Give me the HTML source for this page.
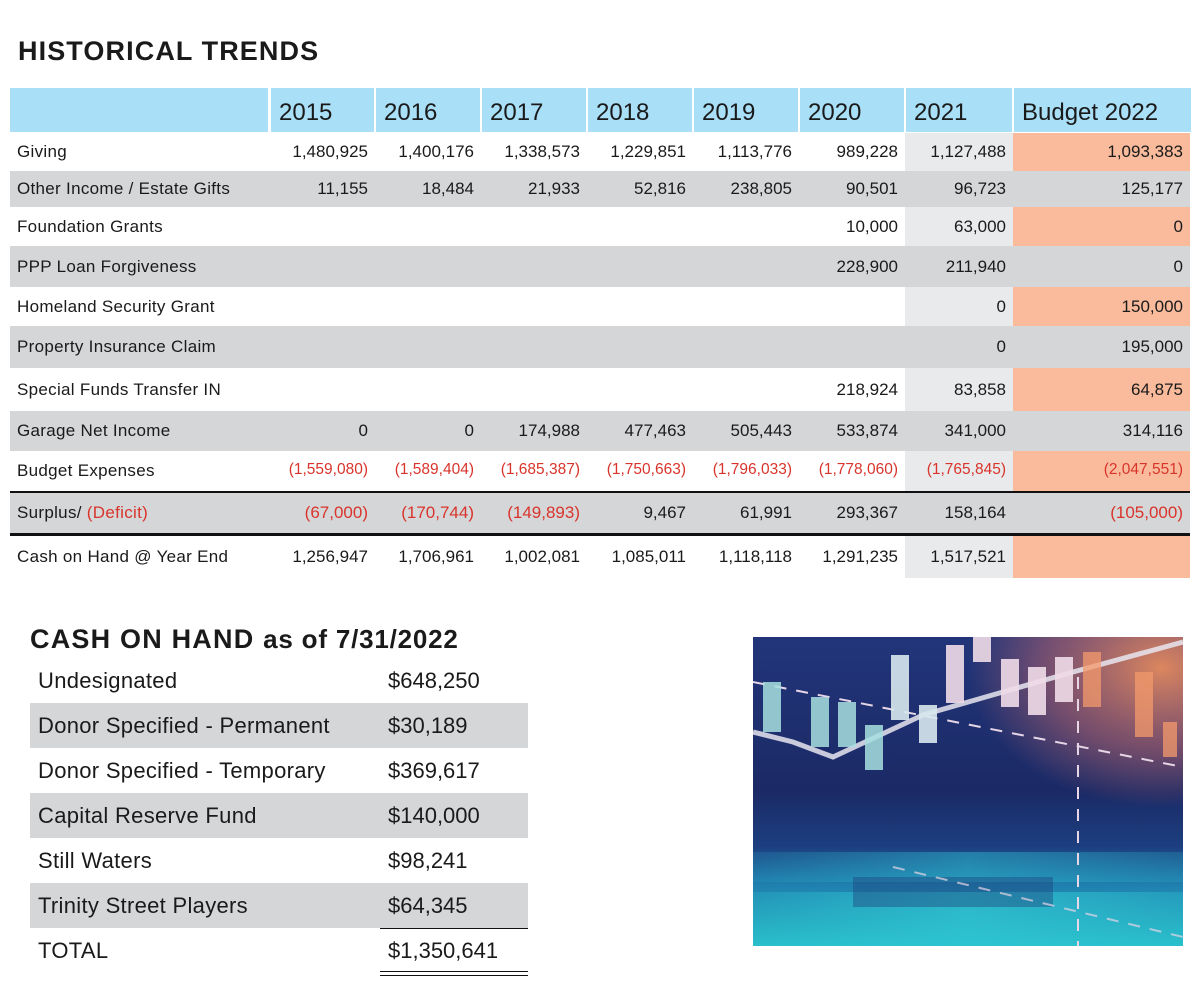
<!DOCTYPE html>
<html><head><meta charset="utf-8">
<style>
body{margin:0;width:1200px;height:988px;background:#fff;font-family:"Liberation Sans",sans-serif;color:#1a1a1a;position:relative;overflow:hidden}
.a{position:absolute}
.t{font-size:17px;line-height:1}
.r{text-align:right}
.red{color:#d9342b}
</style></head><body>
<div class="a" style="left:18px;top:36px;font-size:27px;font-weight:bold;letter-spacing:1.1px">HISTORICAL TRENDS</div>
<div id="tbl"></div>

<div class="a" style="left:30px;top:624px;font-size:27px;font-weight:bold;letter-spacing:1.2px">CASH ON HAND <span style="font-size:26px;letter-spacing:0.8px">as of 7/31/2022</span></div>
<div id="cash"></div>

<svg class="a" style="left:753px;top:637px" width="430" height="309" viewBox="0 0 430 309">
<defs>
<linearGradient id="bg" x1="0" y1="0" x2="0" y2="1"><stop offset="0" stop-color="#22357a"/><stop offset="0.5" stop-color="#1b2a66"/><stop offset="0.68" stop-color="#1c3f80"/><stop offset="0.8" stop-color="#1f7fae"/><stop offset="1" stop-color="#27bcc8"/></linearGradient>
<radialGradient id="or" cx="0.95" cy="0.1" r="0.45"><stop offset="0" stop-color="#f0905c" stop-opacity="0.9"/><stop offset="0.6" stop-color="#c86a6a" stop-opacity="0.5"/><stop offset="1" stop-color="#c86a6a" stop-opacity="0"/></radialGradient>
<linearGradient id="tl" x1="0" y1="0" x2="1" y2="0"><stop offset="0" stop-color="#30c8d4" stop-opacity="0.2"/><stop offset="0.5" stop-color="#30c8d4" stop-opacity="0.7"/><stop offset="1" stop-color="#30c8d4" stop-opacity="0.3"/></linearGradient>
</defs>
<rect width="430" height="309" fill="url(#bg)"/>
<rect width="430" height="309" fill="url(#or)"/>
<rect x="0" y="215" width="430" height="30" fill="url(#tl)" opacity="0.6"/>
<rect x="0" y="255" width="430" height="54" fill="url(#tl)"/>
<rect x="100" y="240" width="200" height="30" fill="#1d3c78" opacity="0.4"/>
<polyline points="0,95 40,105 80,120 170,78 250,55 320,35 430,5" fill="none" stroke="#e8e6f0" stroke-width="5" opacity="0.85"/>
<line x1="0" y1="45" x2="430" y2="130" stroke="#e6d6e6" stroke-width="2" stroke-dasharray="12 10"/>
<line x1="325" y1="40" x2="325" y2="309" stroke="#e6d6e6" stroke-width="2" stroke-dasharray="12 10"/>
<line x1="140" y1="230" x2="430" y2="300" stroke="#e6d6e6" stroke-width="2" stroke-dasharray="12 10" opacity="0.7"/>
<g fill="#a8e0e0" opacity="0.85"><rect x="10" y="45" width="18" height="50"/><rect x="58" y="60" width="18" height="50"/><rect x="85" y="65" width="18" height="45"/><rect x="112" y="88" width="18" height="45"/></g>
<g fill="#d8e8ee" opacity="0.9"><rect x="138" y="18" width="18" height="65"/><rect x="166" y="68" width="18" height="38"/></g>
<g fill="#f0dce8" opacity="0.9"><rect x="193" y="8" width="18" height="58"/><rect x="220" y="0" width="18" height="25"/><rect x="248" y="22" width="18" height="48"/><rect x="275" y="30" width="18" height="48"/><rect x="302" y="20" width="18" height="45"/></g>
<g fill="#f49a6c" opacity="0.75"><rect x="330" y="15" width="18" height="55"/><rect x="382" y="35" width="18" height="65"/><rect x="410" y="85" width="14" height="35"/></g>
</svg>

<script>
const years=["2015","2016","2017","2018","2019","2020","2021","Budget 2022"];
const rowLabels=["Giving","Other Income / Estate Gifts","Foundation Grants","PPP Loan Forgiveness","Homeland Security Grant","Property Insurance Claim","Special Funds Transfer IN","Garage Net Income","Budget Expenses","Surplus/ (Deficit)","Cash on Hand @ Year End"];
const rowValues=[
["1,480,925","1,400,176","1,338,573","1,229,851","1,113,776","989,228","1,127,488","1,093,383"],
["11,155","18,484","21,933","52,816","238,805","90,501","96,723","125,177"],
["","","","","","10,000","63,000","0"],
["","","","","","228,900","211,940","0"],
["","","","","","","0","150,000"],
["","","","","","","0","195,000"],
["","","","","","218,924","83,858","64,875"],
["0","0","174,988","477,463","505,443","533,874","341,000","314,116"],
["(1,559,080)","(1,589,404)","(1,685,387)","(1,750,663)","(1,796,033)","(1,778,060)","(1,765,845)","(2,047,551)"],
["(67,000)","(170,744)","(149,893)","9,467","61,991","293,367","158,164","(105,000)"],
["1,256,947","1,706,961","1,002,081","1,085,011","1,118,118","1,291,235","1,517,521",""]
];
const rowY=[133,171,207,246,287,326,368,411,451,493,536];
const rowB=[171,207,246,287,326,368,411,451,491,533,578];
const colX=[270,375,481,587,693,799,905,1013,1190];
const grayRows=[1,3,5,7,9];
const t=document.getElementById('tbl');
function div(css,txt,cls){const d=document.createElement('div');d.className='a '+(cls||'');d.style.cssText=css;if(txt!==undefined)d.textContent=txt;t.appendChild(d);return d;}
let h=div('left:10px;top:88px;width:258px;height:44px;background:#a9dff7');


years.forEach((y,i)=>{const w=colX[i+1]-colX[i]-(i<7?2:0);
const d=div(`left:${colX[i]+1}px;top:88px;width:${w}px;height:44px;background:#a9dff7;font-size:24px;line-height:50px;padding-left:8px;box-sizing:border-box`,y);

});
rowLabels.forEach((lab,r)=>{const top=rowY[r],hh=rowB[r]-rowY[r],g=grayRows.includes(r);
const bgc=div(`left:10px;top:${top}px;width:1180px;height:${hh}px;background:${g?'#d5d6d8':'#fff'}`);


if(!g){const c=div(`left:905px;top:${top}px;width:108px;height:${hh}px;background:#e9eaec`);
const s=div(`left:1013px;top:${top}px;width:177px;height:${hh}px;background:#f9bb9c`);}
const l=div(`left:17px;top:${top+hh/2-9}px;letter-spacing:0.3px`,'', 't');
if(r===9){l.innerHTML='Surplus/ <span class="red">(Deficit)</span>';}else l.textContent=lab;


rowValues[r].forEach((v,i)=>{if(!v)return;const red=v.startsWith('(');
const d=div(`left:${colX[i]}px;top:${top+hh/2-9}px;width:${colX[i+1]-colX[i]-7}px;${red&&r===8?'font-size:15.5px;':''}`,v,'t r'+(red?' red':''));

});
});
let ln=div('left:10px;top:491px;width:1180px;height:2px;background:#111');
ln=div('left:10px;top:533px;width:1180px;height:3px;background:#111');

const cashLabels=["Undesignated","Donor Specified - Permanent","Donor Specified - Temporary","Capital Reserve Fund","Still Waters","Trinity Street Players","TOTAL"];
const cashValues=["$648,250","$30,189","$369,617","$140,000","$98,241","$64,345","$1,350,641"];
const c=document.getElementById('cash');
function cd(css,txt){const d=document.createElement('div');d.className='a';d.style.cssText=css;if(txt!==undefined)d.textContent=txt;c.appendChild(d);return d;}
cashLabels.forEach((lab,i)=>{const top=658+i*45;
if(i%2===1){const b=cd(`left:30px;top:${top}px;width:498px;height:45px;background:#d5d6d8`);}
const l=cd(`left:38px;top:${top+12}px;font-size:22px;line-height:1;letter-spacing:0.3px`,lab);
const v=cd(`left:388px;top:${top+12}px;font-size:22px;line-height:1`,cashValues[i]);});
let u=cd('left:380px;top:928px;width:148px;height:1px;background:#111');
u=cd('left:380px;top:971px;width:148px;height:1px;background:#111');
u=cd('left:380px;top:975px;width:148px;height:1px;background:#111');
</script>
</body></html>
